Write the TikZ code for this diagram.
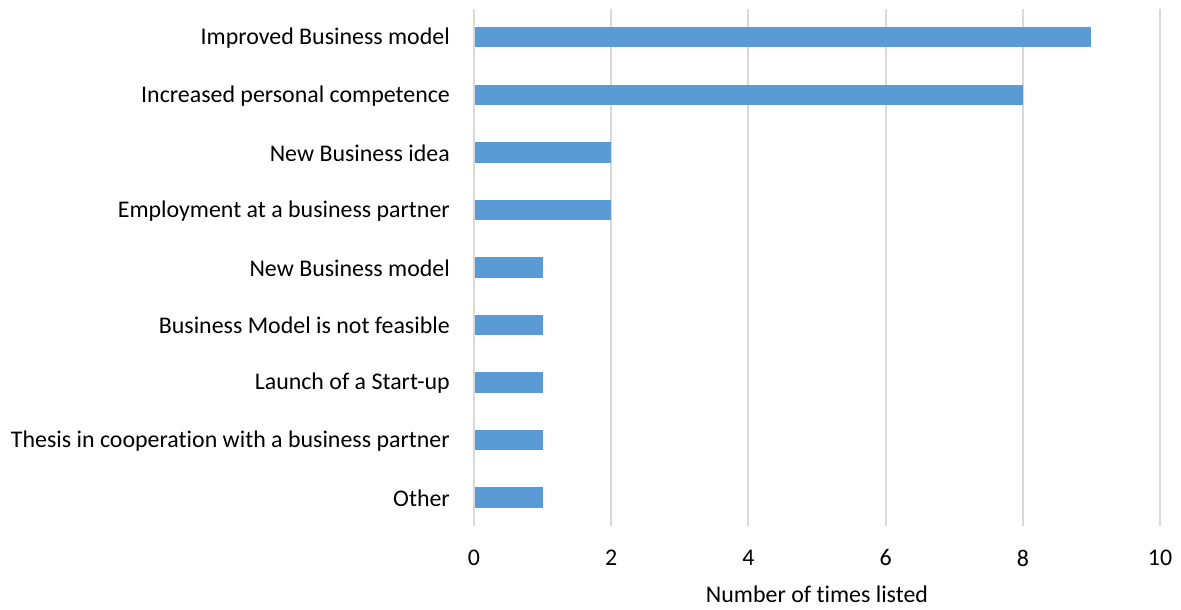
\documentclass[tikz,border=0pt]{standalone}
\usepackage{fontspec}
\setmainfont[Ligatures=NoCommon]{Carlito}
\definecolor{barblue}{HTML}{5B9BD5}
\definecolor{gridgray}{HTML}{D9D9D9}
\definecolor{txt}{HTML}{000000}
\begin{document}
\begin{tikzpicture}[x=1pt,y=-1pt,
  bar/.style={fill=barblue,draw=none},
  grid/.style={draw=gridgray,line width=2pt},
  cat/.style={anchor=east,font=\fontsize{23.9}{26}\selectfont,text=txt,inner sep=0pt},
  tick/.style={anchor=center,font=\fontsize{23.9}{26}\selectfont,text=txt,inner sep=0pt},
  ttl/.style={anchor=center,font=\fontsize{23.9}{26}\selectfont,text=txt,inner sep=0pt}]
\useasboundingbox (0,0) rectangle (1181,610);
\def\ux{68.6}
\def\xo{474}
\foreach \v in {0,2,4,6,8,10}{
  \draw[grid] ({\xo+\v*\ux},9) -- ({\xo+\v*\ux},526);
  \node[tick] (t\v) at ({\xo+\v*\ux},558) {\v};
}
\foreach \i/\val/\lab in {0/9/Improved Business model,1/8/Increased personal competence,2/2/New Business idea,3/2/Employment at a business partner,4/1/New Business model,5/1/Business Model is not feasible,6/1/Launch of a Start-up,7/1/Thesis in cooperation with a business partner,8/1/Other}{
  \pgfmathsetmacro{\yc}{37.3+\i*57.53}
  \fill[bar] (\xo+1,\yc-10.2) rectangle ({\xo+\val*\ux},\yc+10.2);
  \node[cat] (c\i) at (450,\yc+0.8) {\lab};
}
\node[ttl] (xt) at (817,594) {Number of times listed};
\end{tikzpicture}
\end{document}
